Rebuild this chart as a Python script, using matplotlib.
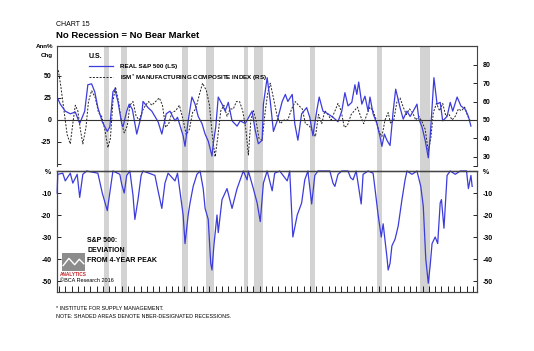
import matplotlib.pyplot as plt
from matplotlib.patches import Rectangle
from matplotlib.lines import Line2D

plt.rcParams['font.family'] = ['Liberation Sans', 'DejaVu Sans']
plt.rcParams['font.weight'] = 'bold'

# ---- data ----
sp_years = [1949.7, 1950.2, 1951.0, 1951.8, 1952.6, 1953.3, 1954.1, 1954.6, 1955.2, 1955.7,
            1956.2, 1956.9, 1957.7, 1958.1, 1958.6, 1958.9, 1959.4, 1960.0, 1960.2, 1960.8,
            1961.2, 1961.7, 1962.4, 1963.2, 1963.4, 1964.2, 1964.8, 1965.3, 1965.8, 1966.4,
            1967.1, 1967.7, 1968.5, 1968.9, 1969.8, 1970.1, 1970.6, 1971.2, 1971.7, 1972.2,
            1972.8, 1973.3, 1973.8, 1974.4, 1974.6, 1975.0, 1975.4, 1976.0, 1976.5, 1977.0,
            1977.6, 1978.4, 1978.9, 1979.7, 1980.1, 1980.8, 1981.3, 1981.8, 1982.4, 1982.6,
            1983.2, 1983.7, 1984.2, 1984.8, 1985.6, 1986.1, 1986.5, 1987.2, 1987.6, 1988.1,
            1988.7, 1989.5, 1990.0, 1990.5, 1991.1, 1991.5, 1992.1, 1992.9, 1993.7, 1994.5,
            1995.1, 1995.6, 1996.1, 1996.7, 1997.2, 1997.5, 1997.8, 1998.3, 1998.8, 1999.3,
            1999.6, 2000.1, 2000.7, 2001.2, 2001.5, 2001.9, 2002.3, 2002.8, 2003.3, 2003.7,
            2004.4, 2004.9, 2005.5, 2006.0, 2006.5, 2007.1, 2007.4, 2007.9, 2008.4, 2008.9,
            2009.2, 2009.5, 2009.8, 2010.3, 2010.8, 2011.2, 2011.9, 2012.4, 2012.8, 2013.5,
            2014.1, 2014.8, 2015.3, 2015.7]
sp_chg = [26, 18, 10, 7, 9, -4, 10, 40, 41, 32,
          14, -2, -13, -8, 32, 35, 21, -4, -8, 10,
          18, 12, -16, 7, 21, 14, 10, 4, -2, -16,
          7, 10, -1, 3, -18, -30, -1, 26, 18, 4,
          -4, -16, -24, -41, -27, -8, 26, 18, 10, 20,
          -1, -7, -1, -4, 1, 10, -12, -27, -23, 18,
          48, 21, -13, -1, 21, 29, 21, 29, -4, -23,
          7, 14, 3, -18, 10, 26, 10, 7, 3, -2,
          10, 31, 16, 20, 40, 29, 43, 18, 27, 10,
          26, 7, -4, -19, -30, -16, -23, -29, 10, 35,
          14, 1, 10, 4, 10, 18, 1, -8, -23, -43,
          -19, 14, 48, 18, 20, -1, 4, 20, 10, 26,
          16, 12, 4, -7]

ism_years = [1949.9, 1950.3, 1950.8, 1951.3, 1951.8, 1952.2, 1952.6, 1953.0, 1953.4, 1953.8,
             1954.3, 1954.7, 1955.2, 1955.8, 1956.3, 1956.8, 1957.3, 1957.8, 1958.2, 1958.6,
             1959.0, 1959.5, 1960.0, 1960.4, 1960.9, 1961.3, 1961.8, 1962.3, 1962.8, 1963.3,
             1963.8, 1964.3, 1964.8, 1965.4, 1966.0, 1966.5, 1967.0, 1967.5, 1968.0, 1968.6,
             1969.2, 1969.8, 1970.3, 1970.8, 1971.3, 1971.8, 1972.4, 1972.9, 1973.5, 1974.0,
             1974.5, 1974.9, 1975.3, 1975.8, 1976.3, 1976.8, 1977.3, 1977.8, 1978.3, 1978.8,
             1979.3, 1979.8, 1980.2, 1980.6, 1981.0, 1981.4, 1981.9, 1982.4, 1982.9, 1983.3,
             1983.7, 1984.2, 1984.8, 1985.3, 1985.9, 1986.5, 1987.1, 1987.7, 1988.2, 1988.8,
             1989.3, 1989.9, 1990.4, 1990.9, 1991.4, 1991.9, 1992.4, 1992.9, 1993.4, 1993.9,
             1994.5, 1995.0, 1995.5, 1996.0, 1996.6, 1997.1, 1997.6, 1998.1, 1998.6, 1999.1,
             1999.6, 2000.1, 2000.6, 2001.0, 2001.5, 2002.0, 2002.5, 2002.9, 2003.4, 2003.9,
             2004.4, 2004.9, 2005.4, 2005.9, 2006.4, 2006.9, 2007.4, 2007.9, 2008.4, 2008.9,
             2009.3, 2009.7, 2010.2, 2010.7, 2011.2, 2011.7, 2012.2, 2012.7, 2013.2, 2013.7,
             2014.2, 2014.7, 2015.2, 2015.7]
ism_idx = [77, 68, 55, 42, 37, 48, 58, 55, 45, 37,
           46, 60, 66, 62, 54, 52, 45, 35, 40, 60,
           68, 60, 48, 43, 47, 58, 60, 52, 50, 55,
           58, 60, 58, 60, 62, 58, 46, 48, 54, 55,
           58, 50, 42, 45, 54, 56, 64, 70, 66, 58,
           40, 30, 40, 55, 58, 52, 56, 56, 60, 60,
           55, 45, 31, 50, 55, 50, 40, 39, 55, 65,
           70, 62, 52, 48, 50, 50, 56, 60, 58, 56,
           48, 47, 44, 41, 53, 48, 55, 53, 50, 54,
           59, 55, 46, 47, 53, 55, 57, 52, 48, 53,
           57, 55, 50, 44, 41, 50, 54, 48, 50, 60,
           62, 57, 53, 56, 54, 50, 52, 49, 45, 33,
           40, 54, 59, 55, 59, 52, 53, 50, 52, 56,
           55, 57, 52, 49]

dd_years = [1949.7, 1949.8, 1950.6, 1951.0, 1951.8, 1952.2, 1952.9, 1953.3, 1953.8, 1954.4,
            1956.2, 1956.9, 1957.7, 1958.1, 1958.6, 1959.7, 1960.0, 1960.4, 1960.8, 1961.3,
            1961.8, 1962.1, 1962.6, 1963.1, 1963.4, 1965.3, 1965.8, 1966.4, 1966.9, 1967.4,
            1968.5, 1968.9, 1969.8, 1970.1, 1970.6, 1970.9, 1971.4, 1972.0, 1972.5, 1973.0,
            1973.3, 1973.8, 1974.2, 1974.4, 1974.7, 1975.2, 1975.4, 1976.0, 1976.8, 1977.6,
            1978.4, 1978.9, 1979.4, 1980.0, 1980.2, 1980.9, 1981.6, 1982.1, 1982.6, 1983.2,
            1984.0, 1984.4, 1985.2, 1986.4, 1986.8, 1987.3, 1988.0, 1988.7, 1989.2, 1989.7,
            1990.3, 1990.8, 1991.3, 1993.2, 1993.7, 1994.0, 1994.5, 1995.1, 1996.1, 1996.5,
            1996.9, 1997.4, 1998.2, 1998.5, 1999.3, 2000.1, 2000.4, 2000.9, 2001.4, 2001.7,
            2002.3, 2002.5, 2002.8, 2003.1, 2003.6, 2004.1, 2004.7, 2005.2, 2005.5, 2006.3,
            2007.1, 2007.7, 2008.1, 2008.5, 2008.9, 2009.2, 2009.5, 2010.0, 2010.4, 2010.8,
            2011.0, 2011.4, 2011.9, 2012.4, 2013.2, 2014.0, 2015.0, 2015.3, 2015.7, 2015.9]
dd_pct = [-10, -1.5, -1, -4.5, -1, -5.5, -1.5, -12, -1.5, 0,
          -1, -10, -18, -10, 0, -1.5, -6, -10, -2, 0,
          -11, -22, -13, -2, 0, -2, -9, -17, -5.5, -1,
          -4.5, -1, -20, -33, -20, -14.5, -7, -1.5, 0, -8,
          -17, -22, -42, -45, -34, -20, -28, -13, -8, -17,
          -8, -4, 0, -4, 0, -7, -14.5, -23, -5.5, 0,
          -9, -1, 0, -4.5, 0, -30, -20, -14.5, -4, 0,
          -15, -2, 0, 0, -5.5, -7, -1.5, 0, 0, -3,
          -4, 0, -15, -1.5, 0, -1, -8, -20, -30, -24,
          -39, -45, -42, -34, -31, -25, -13, -4, 0, -1.5,
          0, -7, -16, -40, -51, -43, -33, -30, -33, -14.5,
          -13, -26, -2, 0, -1.5, 0, 0, -8, -2, -7]

# recession bands as placed on the chart
rec_start = [1957.2, 1959.85, 1969.65, 1973.45, 1979.55, 1981.15, 1990.05, 2000.65, 2007.6]
rec_end = [1958.0, 1960.8, 1970.5, 1974.75, 1980.2, 1982.6, 1990.85, 2001.45, 2009.15]

decades = [1950, 1960, 1970, 1980, 1990, 2000, 2010]
decade_labels = ['50', '60', '70', '80', '90', '2000', '10']

BLUE = '#3c3cdc'
SHADE = '#d3d3d3'
FRAME = '#444444'
XMIN, XMAX = 1949.68, 2016.67

W_PX, H_PX = 534, 351
fig = plt.figure(figsize=(W_PX / 100, H_PX / 100), dpi=100)


def fx(px):
    return px / W_PX


def fy(py):
    return 1 - py / H_PX


L, W = fx(57), fx(477) - fx(57)

# background shading spanning both panels
bg = fig.add_axes([L, fy(292), W, fy(46) - fy(292)], zorder=0)
bg.set_xlim(XMIN, XMAX)
bg.axis('off')
for a, b in zip(rec_start, rec_end):
    bg.axvspan(a, b, color=SHADE, lw=0)

# ---- top panel ----
ax = fig.add_axes([L, fy(166), W, fy(46) - fy(166)], zorder=2)
ax2 = fig.add_axes([L, fy(166), W, fy(46) - fy(166)], zorder=1)
for a in (ax, ax2):
    a.patch.set_visible(False)
    a.set_xlim(XMIN, XMAX)
    a.set_xticks([])
    a.spines['bottom'].set_visible(False)
    for s in a.spines.values():
        s.set_color(FRAME)
        s.set_linewidth(0.8)

l_sp, = ax.plot(sp_years, sp_chg, color=BLUE, lw=0.9)
l_ism, = ax2.plot(ism_years, ism_idx, color='#222222', lw=0.7, ls=(0, (2, 1.5)))
ax.axhline(0, color='#333333', lw=0.8)

ax.set_ylim(-52.3, 84)
ax.set_yticks([-50, -25, 0, 25, 50])
ax.set_yticklabels(['', '-25', '0', '25', '50'])
ax.spines['right'].set_visible(False)
ax.tick_params(axis='y', direction='in', length=3, width=0.6, labelsize=5, pad=4)

ax2.set_ylim(25, 90.2)
ax2.yaxis.tick_right()
ax2.set_yticks([25, 30, 40, 50, 60, 70, 80])
ax2.set_yticklabels(['', '30', '40', '50', '60', '70', '80'])
ax2.spines['left'].set_visible(False)
ax2.tick_params(axis='y', direction='in', length=3, width=0.6, labelsize=5, pad=4)

leg = ax.legend([l_sp, l_ism], ['REAL S&P 500 (LS)', 'ISM$^{*}$ MANUFACTURING COMPOSITE INDEX (RS)'],
                loc='upper left', bbox_to_anchor=(fx(84), fy(48)), bbox_transform=fig.transFigure,
                frameon=False, fontsize=4.5, handlelength=3.8, handletextpad=1.1,
                labelspacing=0.55, title='U.S.', title_fontsize=5, alignment='left',
                borderpad=0.3)
leg.get_title().set_fontweight('bold')

# ---- bottom panel ----
bx = fig.add_axes([L, fy(292), W, fy(171) - fy(292)], zorder=2)
bx2 = bx.twinx()
bx.patch.set_visible(False)
bx2.patch.set_visible(False)
bx.plot(dd_years, dd_pct, color=BLUE, lw=0.9, clip_on=False)
for a in (bx, bx2):
    a.set_xlim(XMIN, XMAX)
    a.set_ylim(-55, 0)
    a.set_yticks([-50, -40, -30, -20, -10, 0])
    a.set_yticklabels(['-50', '-40', '-30', '-20', '-10', '%'])
    a.tick_params(axis='y', direction='in', length=3, width=0.6, labelsize=5, pad=4)
    for s in a.spines.values():
        s.set_color(FRAME)
        s.set_linewidth(0.8)
bx.spines['top'].set_color('#222222')
bx.spines['top'].set_linewidth(1.0)
bx.set_xticks(decades)
bx.set_xticklabels(decade_labels)
bx.set_xticks(range(1950, 2017), minor=True)
bx.tick_params(axis='x', which='both', direction='in', length=4, width=0.6,
               labelsize=5.5, pad=3)
bx2.set_xticks([])

fig.text(fx(87), fy(237), 'S&P 500:\nDEVIATION\nFROM 4-YEAR PEAK', fontsize=5,
         va='top', ha='left', linespacing=1.6)

# BCA logo
logo = fig.add_axes([fx(62), fy(271), fx(85) - fx(62), fy(253) - fy(271)], zorder=3)
logo.add_patch(Rectangle((0, 0), 1, 1, color='#8c8c8c'))
logo.add_line(Line2D([0.05, 0.3, 0.55, 0.75, 0.95], [0.3, 0.7, 0.35, 0.65, 0.4],
                     color='white', lw=1.0))
logo.set_xlim(0, 1)
logo.set_ylim(0, 1)
logo.axis('off')
fig.text(fx(73.5), fy(274), 'ANALYTICS', fontsize=3.4, color='#c0262c',
         ha='center', va='center')
fig.text(fx(60), fy(281), '\u00a9BCA Research 2016', fontsize=4, fontweight='normal',
         va='center', ha='left')

# ---- titles and notes ----
fig.text(fx(56), fy(24), 'CHART 15', fontsize=5, fontweight='normal', va='center')
fig.text(fx(56), fy(36), 'No Recession = No Bear Market', fontsize=6.8, va='center')
fig.text(fx(53), fy(47), 'Ann%', fontsize=4.5, ha='right', va='center')
fig.text(fx(53), fy(55), 'Chg', fontsize=4.5, ha='right', va='center')
fig.text(fx(56), fy(309), '* INSTITUTE FOR SUPPLY MANAGEMENT.', fontsize=3.9,
         fontweight='normal', va='center')
fig.text(fx(56), fy(316.5), 'NOTE: SHADED AREAS DENOTE NBER-DESIGNATED RECESSIONS.',
         fontsize=3.9, fontweight='normal', va='center')

fig.savefig('out.png', dpi=100)
